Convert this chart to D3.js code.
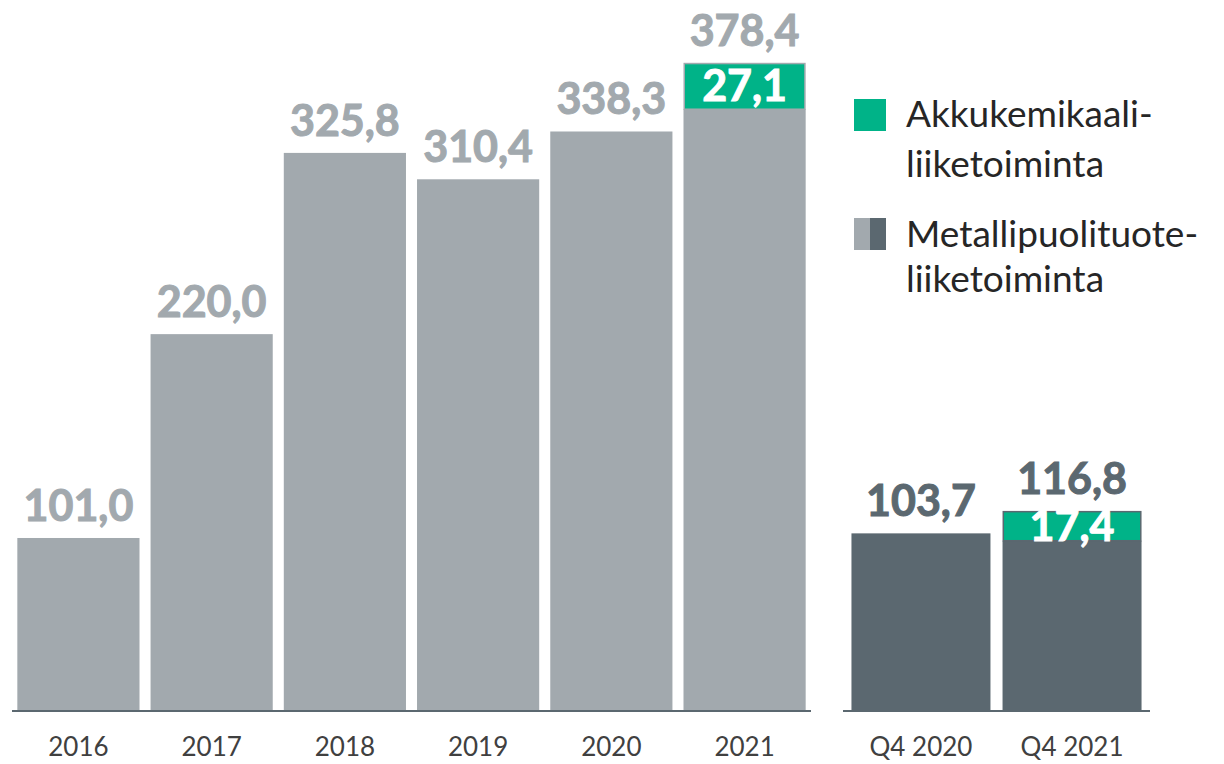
<!DOCTYPE html>
<html><head><meta charset="utf-8">
<script src="https://cdn.jsdelivr.net/npm/d3@7"></script>
<style>html,body{margin:0;padding:0;background:#fff;}svg{display:block;}</style>
</head><body>
<svg id="chart" width="1224" height="764"></svg>
<script>
const years = ["2016","2017","2018","2019","2020","2021"];
const yearMetal = [101.0, 220.0, 325.8, 310.4, 338.3, 351.3];
const yearBattery = [0, 0, 0, 0, 0, 27.1];
const yearTotal = [101.0, 220.0, 325.8, 310.4, 338.3, 378.4];
const quarters = ["Q4 2020","Q4 2021"];
const qMetal = [103.7, 99.4];
const qBattery = [0, 17.4];
const qTotal = [103.7, 116.8];
const legendLabels = [["Akkukemikaali-","liiketoiminta"],["Metallipuolituote-","liiketoiminta"]];

const C_LIGHT = "#A2A9AE", C_DARK = "#5B6870", C_GREEN = "#00B388";
const FONT = "Lato, 'Open Sans', sans-serif";
const fmt = d3.formatLocale({decimal:",", thousands:" ", grouping:[3], currency:["",""]}).format(".1f");

const svg = d3.select("#chart");
const y = d3.scaleLinear().domain([0, 400]).range([711, 711 - 400*1.713]);

function valueText(g, xc, yb, txt, color) {
  g.append("text").attr("x", xc).attr("y", yb)
    .attr("text-anchor", "middle").attr("font-family", FONT).attr("font-weight", 700)
    .attr("font-size", 43).attr("fill", color).attr("stroke", color).attr("stroke-width", 1)
    .attr("paint-order", "stroke").text(txt);
}

function panel(cats, metal, battery, total, x, baseColor, labelColor) {
  const g = svg.append("g");
  cats.forEach((c, i) => {
    const x0 = x(c), w = x.bandwidth();
    g.append("rect").attr("x", x0).attr("y", y(metal[i])).attr("width", w)
      .attr("height", y(0) - y(metal[i])).attr("fill", baseColor);
    if (battery[i] > 0) {
      g.append("rect").attr("x", x0 + 0.75).attr("y", y(total[i]) + 0.75).attr("width", w - 1.5)
        .attr("height", y(metal[i]) - y(total[i]) - 0.75).attr("fill", C_GREEN)
        .attr("stroke", baseColor).attr("stroke-width", 1.5);
      valueText(g, x0 + w/2, (y(metal[i]) + y(total[i]))/2 + 15, fmt(battery[i]), "#fff");
    }
    valueText(g, x0 + w/2, y(total[i]) - 17, fmt(total[i]), labelColor);
  });
  const r = x.range();
  const ax = d3.axisBottom(x).tickSize(0).tickPadding(27);
  const axg = svg.append("g").attr("transform", `translate(0,${y(0)})`).call(ax);
  axg.select(".domain").attr("d", `M${r[0]},0H${r[1]}`).attr("stroke", C_DARK).attr("stroke-width", 2);
  axg.selectAll("text").attr("font-family", FONT).attr("font-size", 26).attr("fill", "#404040");
}

const xYear = d3.scaleBand().domain(years).range([12, 811]).paddingInner(0.083).paddingOuter(0.04);
panel(years, yearMetal, yearBattery, yearTotal, xYear, C_LIGHT, C_LIGHT);

const xQ = d3.scaleBand().domain(quarters).range([843, 1150]).paddingInner(0.08).paddingOuter(0.056);
panel(quarters, qMetal, qBattery, qTotal, xQ, C_DARK, C_DARK);

// Legend
const lg = svg.append("g").attr("font-family", FONT).attr("font-size", 37).attr("fill", "#262626");
lg.append("rect").attr("x", 854).attr("y", 99).attr("width", 32).attr("height", 32).attr("fill", C_GREEN);
lg.append("rect").attr("x", 854).attr("y", 218).attr("width", 16).attr("height", 32).attr("fill", C_LIGHT);
lg.append("rect").attr("x", 870).attr("y", 218).attr("width", 16).attr("height", 32).attr("fill", C_DARK);
const baselines = [[127, 177], [247, 292]];
legendLabels.forEach((lines, i) => {
  lines.forEach((t, j) => {
    lg.append("text").attr("x", 906).attr("y", baselines[i][j]).text(t);
  });
});
</script>
</body></html>
